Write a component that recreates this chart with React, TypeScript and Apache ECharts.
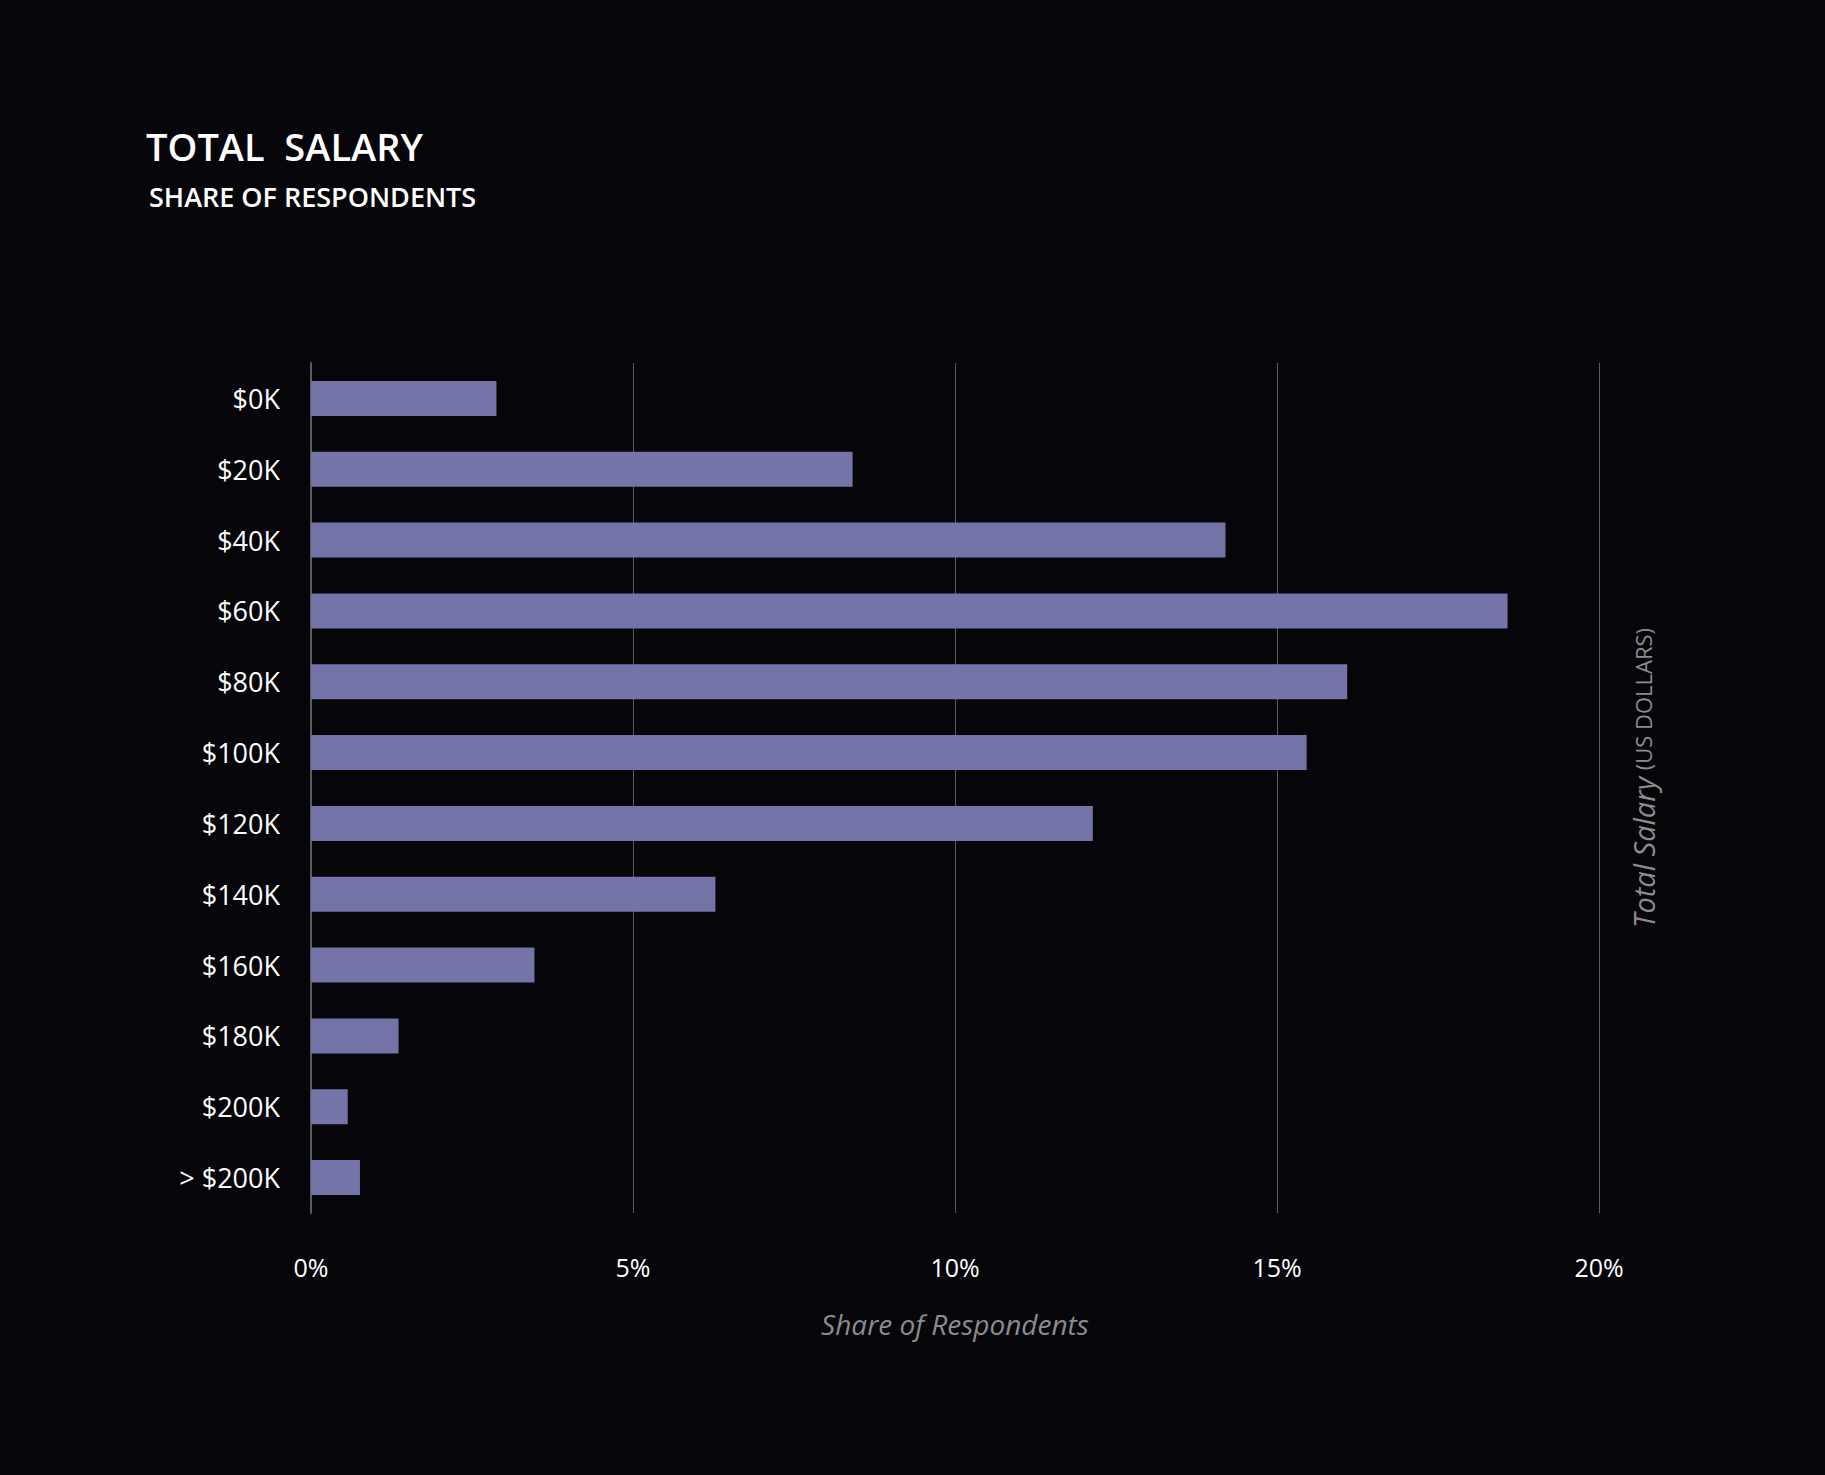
import React, { useEffect, useRef } from "react";
import * as echarts from "echarts";

const categories = ["$0K", "$20K", "$40K", "$60K", "$80K", "$100K", "$120K", "$140K", "$160K", "$180K", "$200K", "> $200K"];
const shareValues = [2.88, 8.41, 14.2, 18.58, 16.09, 15.46, 12.14, 6.28, 3.47, 1.36, 0.57, 0.76];
const xTicks = [0, 5, 10, 15, 20];

const FONT = "'Open Sans', 'Noto Sans', sans-serif";

export default function App() {
  const ref = useRef<HTMLDivElement>(null);
  useEffect(() => {
    document.body.style.margin = "0";
    document.body.style.background = "#05050a";
    const chart = echarts.init(ref.current!, null, { renderer: "svg" });
    chart.setOption({
      animation: false,
      backgroundColor: "#05050a",
      grid: { left: 311, right: 226, top: 363, bottom: 262, containLabel: false },
      graphic: [
        {
          type: "text",
          left: 146,
          top: 127,
          style: { text: "TOTAL  SALARY", fill: "#ffffff", font: `600 38px ${FONT}` },
        },
        {
          type: "text",
          left: 149,
          top: 183,
          style: { text: "SHARE OF RESPONDENTS", fill: "#ffffff", font: `600 27px ${FONT}` },
        },
        {
          type: "text",
          x: 1643,
          y: 778,
          rotation: Math.PI / 2,
          style: {
            text: "{a|Total Salary}  {b|(US DOLLARS)}",
            align: "center",
            verticalAlign: "middle",
            rich: {
              a: { fill: "#8c8c8c", fontSize: 29, fontStyle: "italic", fontFamily: FONT },
              b: { fill: "#8c8c8c", fontSize: 22, fontFamily: FONT },
            },
          },
        },
      ],
      xAxis: {
        type: "value",
        min: 0,
        max: 20,
        interval: 5,
        position: "bottom",
        axisLine: { show: false },
        axisTick: { show: false },
        splitLine: { show: true, lineStyle: { color: "#5c5c5c", width: 1 } },
        axisLabel: {
          color: "#ffffff",
          fontSize: 25,
          fontFamily: FONT,
          margin: 41,
          formatter: (v: number) => (xTicks.includes(v) ? `${v}%` : ""),
        },
        name: "Share of Respondents",
        nameLocation: "middle",
        nameGap: 97,
        nameTextStyle: { color: "#8c8c8c", fontSize: 28, fontStyle: "italic", fontFamily: FONT },
      },
      yAxis: {
        type: "category",
        data: categories,
        inverse: true,
        axisLine: { show: true, lineStyle: { color: "#5c5c5c", width: 2 } },
        axisTick: { show: false },
        axisLabel: { color: "#ffffff", fontSize: 27, fontFamily: FONT, margin: 31 },
      },
      series: [
        {
          type: "bar",
          data: shareValues,
          barWidth: 35,
          itemStyle: { color: "#7474a9" },
        },
      ],
    });
    return () => chart.dispose();
  }, []);
  return <div ref={ref} style={{ width: 1825, height: 1475 }} />;
}
